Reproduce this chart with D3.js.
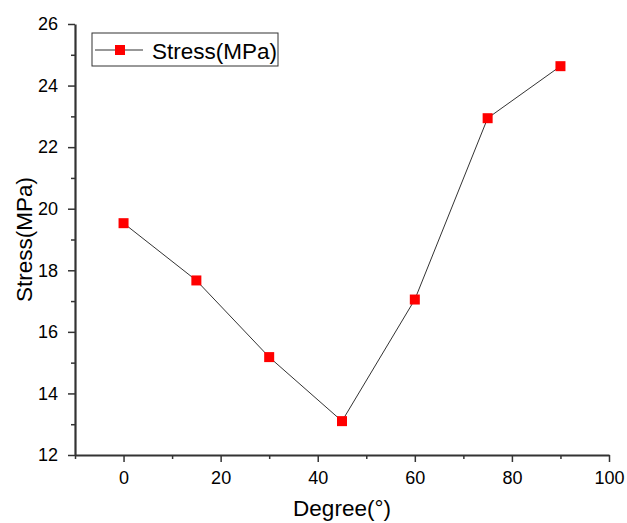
<!DOCTYPE html>
<html>
<head>
<meta charset="utf-8">
<script src="https://cdn.jsdelivr.net/npm/d3@7"></script>
<style>
  body { margin: 0; background: #fff; }
  text { font-family: Arial, "Liberation Sans", sans-serif; }
</style>
</head>
<body>
<div id="chart"></div>
<script>
// Data.
var degrees = [0, 15, 30, 45, 60, 75, 90];
var stress = [19.53, 17.67, 15.18, 13.1, 17.05, 22.94, 24.63];
var xTicks = [0, 20, 40, 60, 80, 100];
var yTicks = [12, 14, 16, 18, 20, 22, 24, 26];
var seriesName = "Stress(MPa)";

const WIDTH = 627, HEIGHT = 523;
const PLOT = {'left': 75, 'right': 609, 'top': 24, 'bottom': 455};

var svg = d3.select("#chart").append("svg")
    .attr("width", WIDTH)
    .attr("height", HEIGHT);

var x = d3.scaleLinear().domain([-10, 100]).range([PLOT.left, PLOT.right]);
var y = d3.scaleLinear().domain([12, 26]).range([PLOT.bottom, PLOT.top]);

// minor ticks
var xMinor = d3.range(-10, 101, 10).filter(function(v){ return v % 20 !== 0; });
var yMinor = d3.range(13, 26, 2);

svg.append("g")
   .attr("transform", "translate(0," + PLOT.bottom + ")")
   .call(d3.axisBottom(x).tickValues(xMinor).tickSize(4).tickFormat(""))
   .call(function(g){ g.select(".domain").remove(); g.selectAll("line").attr("stroke-width", 1.5).attr("stroke", "#333"); });

svg.append("g")
   .attr("transform", "translate(" + PLOT.left + ",0)")
   .call(d3.axisLeft(y).tickValues(yMinor).tickSize(4).tickFormat(""))
   .call(function(g){ g.select(".domain").remove(); g.selectAll("line").attr("stroke-width", 1.5).attr("stroke", "#333"); });

var xAxis = svg.append("g")
   .attr("transform", "translate(0," + PLOT.bottom + ")")
   .call(d3.axisBottom(x).tickValues(xTicks).tickSize(7).tickSizeOuter(0).tickPadding(9));

var yAxis = svg.append("g")
   .attr("transform", "translate(" + PLOT.left + ",0)")
   .call(d3.axisLeft(y).tickValues(yTicks).tickSize(7).tickSizeOuter(0).tickPadding(10));

[xAxis, yAxis].forEach(function(a){
  a.select(".domain").attr("stroke", "#333").attr("stroke-width", 2.2);
  a.selectAll(".tick line").attr("stroke", "#333").attr("stroke-width", 1.5);
  a.selectAll(".tick text").attr("font-size", "18px").attr("fill", "#000")
    .style("font-family", "Arial, 'Liberation Sans', sans-serif");
});

// axis titles
svg.append("text")
   .attr("x", (PLOT.left + PLOT.right) / 2)
   .attr("y", 516)
   .attr("text-anchor", "middle")
   .attr("font-size", "22.5px")
   .text("Degree(°)");

svg.append("text")
   .attr("transform", "translate(32," + ((PLOT.top + PLOT.bottom) / 2) + ") rotate(-90)")
   .attr("text-anchor", "middle")
   .attr("font-size", "22.5px")
   .text("Stress(MPa)");

// line
var line = d3.line()
   .x(function(d, i){ return x(degrees[i]); })
   .y(function(d){ return y(d); });

svg.append("path")
   .datum(stress)
   .attr("d", line)
   .attr("fill", "none")
   .attr("stroke", "#333")
   .attr("stroke-width", 1);

var MS = 10;
svg.selectAll("rect.pt")
   .data(stress)
   .enter()
   .append("rect")
   .attr("class", "pt")
   .attr("x", function(d, i){ return x(degrees[i]) - MS / 2; })
   .attr("y", function(d){ return y(d) - MS / 2; })
   .attr("width", MS)
   .attr("height", MS)
   .attr("fill", "#ff0000");

// legend
var lg = svg.append("g").attr("transform", "translate(92,33)");
lg.append("rect")
  .attr("width", 186).attr("height", 33)
  .attr("fill", "#fff").attr("stroke", "#333").attr("stroke-width", 1);
lg.append("line")
  .attr("x1", 3).attr("x2", 51).attr("y1", 17).attr("y2", 17)
  .attr("stroke", "#333").attr("stroke-width", 1.2);
lg.append("rect")
  .attr("x", 28 - MS / 2).attr("y", 17 - MS / 2)
  .attr("width", MS).attr("height", MS).attr("fill", "#ff0000");
lg.append("text")
  .attr("x", 60).attr("y", 26)
  .attr("font-size", "22.5px")
  .text(seriesName);
</script>
</body>
</html>
